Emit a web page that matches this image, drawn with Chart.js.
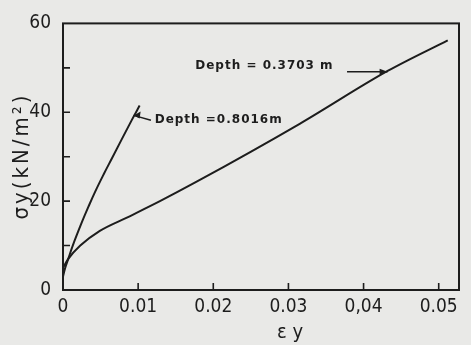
<!DOCTYPE html>
<html>
<head>
<meta charset="utf-8">
<script src="https://cdn.jsdelivr.net/npm/chart.js@4/dist/chart.umd.min.js"></script>
<style>
  html, body { margin: 0; padding: 0; background: #e9e9e7; }
  #wrap { width: 471px; height: 345px; position: relative; }
</style>
</head>
<body>
<div id="wrap"><canvas id="chart"></canvas></div>
<script>
// depth = 0.8016 m
const strainDeep = [0, 0.0003, 0.0007, 0.0013, 0.0025, 0.0034, 0.0043, 0.0054, 0.0065, 0.0092, 0.0102];
const stressDeep = [3, 5, 7, 10, 15.2, 18.8, 22.2, 26, 29.6, 38.4, 41.5];

// depth = 0.3703 m
const strainShallow = [0, 0.0007, 0.0023, 0.0049, 0.0085, 0.0129, 0.0176, 0.0315, 0.0432, 0.0512];
const stressShallow = [5, 7, 10, 13.3, 16.3, 20, 24.2, 37.4, 49.3, 56.2];

const xTickText = ["0", "0.01", "0.02", "0.03", "0,04", "0.05"];
const yTickText = { 0: "0", 20: "20", 40: "40", 60: "60" };

const ink = "#1d1d1d";

const toPoints = (xs, ys) => xs.map((x, i) => ({ x: x, y: ys[i] }));

// frame, inward ticks, titles and the two depth labels
const paperPlugin = {
  id: "paper",
  beforeDraw(chart) {
    const c = chart.ctx;
    c.save();
    c.fillStyle = "#e9e9e7";
    c.fillRect(0, 0, chart.width, chart.height);
    c.restore();
  },
  afterDraw(chart) {
    const c = chart.ctx;
    const a = chart.chartArea;
    const xs = chart.scales.x, ys = chart.scales.y;
    c.save();
    c.strokeStyle = ink;
    c.lineWidth = 2;
    c.strokeRect(a.left, a.top, a.right - a.left, a.bottom - a.top);

    c.lineWidth = 1.6;
    c.beginPath();
    [10, 20, 30, 40, 50].forEach(v => {
      const py = ys.getPixelForValue(v);
      c.moveTo(a.left, py); c.lineTo(a.left + 7, py);
    });
    [0.01, 0.02, 0.03, 0.04, 0.05].forEach(v => {
      const px = xs.getPixelForValue(v);
      c.moveTo(px, a.bottom); c.lineTo(px, a.bottom - 7);
    });
    c.stroke();

    c.fillStyle = ink;
    c.font = "20px 'DejaVu Sans Condensed', 'DejaVu Sans'";
    c.textAlign = "center";
    c.textBaseline = "middle";
    c.fillText("ε y", 290, 333);

    c.save();
    c.translate(22, 156);
    c.rotate(-Math.PI / 2);
    c.font = "22px 'DejaVu Sans Condensed', 'DejaVu Sans'";
    c.letterSpacing = "3px";
    c.fillText("σy(kN/m²)", 0, 0);
    c.restore();

    c.font = "bold 12px 'DejaVu Sans'";
    c.letterSpacing = "1px";
    c.textAlign = "left";
    c.fillText("Depth = 0.3703 m", xs.getPixelForValue(0.0176), ys.getPixelForValue(50.4));
    c.fillText("Depth =0.8016m", xs.getPixelForValue(0.0122), ys.getPixelForValue(38.2));
    c.letterSpacing = "0px";

    // arrow to the 0.3703 m curve
    const ax1 = xs.getPixelForValue(0.0378), ax2 = xs.getPixelForValue(0.0432);
    const ay = ys.getPixelForValue(49.1);
    c.lineWidth = 1.5;
    c.beginPath();
    c.moveTo(ax1, ay); c.lineTo(ax2, ay);
    c.stroke();
    c.beginPath();
    c.moveTo(ax2, ay); c.lineTo(ax2 - 8, ay - 3); c.lineTo(ax2 - 8, ay + 3); c.closePath();
    c.fill();

    // arrow to the 0.8016 m curve
    const bx1 = xs.getPixelForValue(0.0117), bx2 = xs.getPixelForValue(0.0094);
    const by1 = ys.getPixelForValue(38.2), by2 = ys.getPixelForValue(39.3);
    c.beginPath();
    c.moveTo(bx1, by1); c.lineTo(bx2, by2);
    c.stroke();
    c.beginPath();
    c.moveTo(bx2, by2); c.lineTo(bx2 + 7, by2 - 4); c.lineTo(bx2 + 6, by2 + 3); c.closePath();
    c.fill();
    c.restore();
  }
};

new Chart(document.getElementById("chart"), {
  type: "line",
  data: {
    datasets: [
      { label: "Depth = 0.8016 m", data: toPoints(strainDeep, stressDeep), tension: 0.4, cubicInterpolationMode: "default" },
      { label: "Depth = 0.3703 m", data: toPoints(strainShallow, stressShallow), cubicInterpolationMode: "monotone" }
    ]
  },
  options: {
    responsive: true,
    maintainAspectRatio: false,
    animation: false,
    layout: { padding: { left: 0, top: 19, right: 12, bottom: 0 } },
    elements: {
      line: { borderColor: ink, borderWidth: 2 },
      point: { radius: 0 }
    },
    plugins: { legend: { display: false }, tooltip: { enabled: false } },
    scales: {
      x: {
        type: "linear",
        min: 0,
        max: 0.0527,
        grid: { display: false, drawTicks: false },
        border: { display: false },
        ticks: {
          stepSize: 0.01,
          includeBounds: false,
          padding: 6,
          maxRotation: 0,
          color: ink,
          font: { family: "'DejaVu Sans Condensed', 'DejaVu Sans'", size: 19 },
          callback: (v, i) => xTickText[i]
        },
        afterFit: s => { s.height = 55; }
      },
      y: {
        min: 0,
        max: 60,
        grid: { display: false, drawTicks: false },
        border: { display: false },
        ticks: {
          stepSize: 10,
          padding: 12,
          color: ink,
          font: { family: "'DejaVu Sans Condensed', 'DejaVu Sans'", size: 19 },
          callback: v => yTickText[v] !== undefined ? yTickText[v] : ""
        },
        afterFit: s => { s.width = 63; }
      }
    }
  },
  plugins: [paperPlugin]
});
</script>
</body>
</html>
